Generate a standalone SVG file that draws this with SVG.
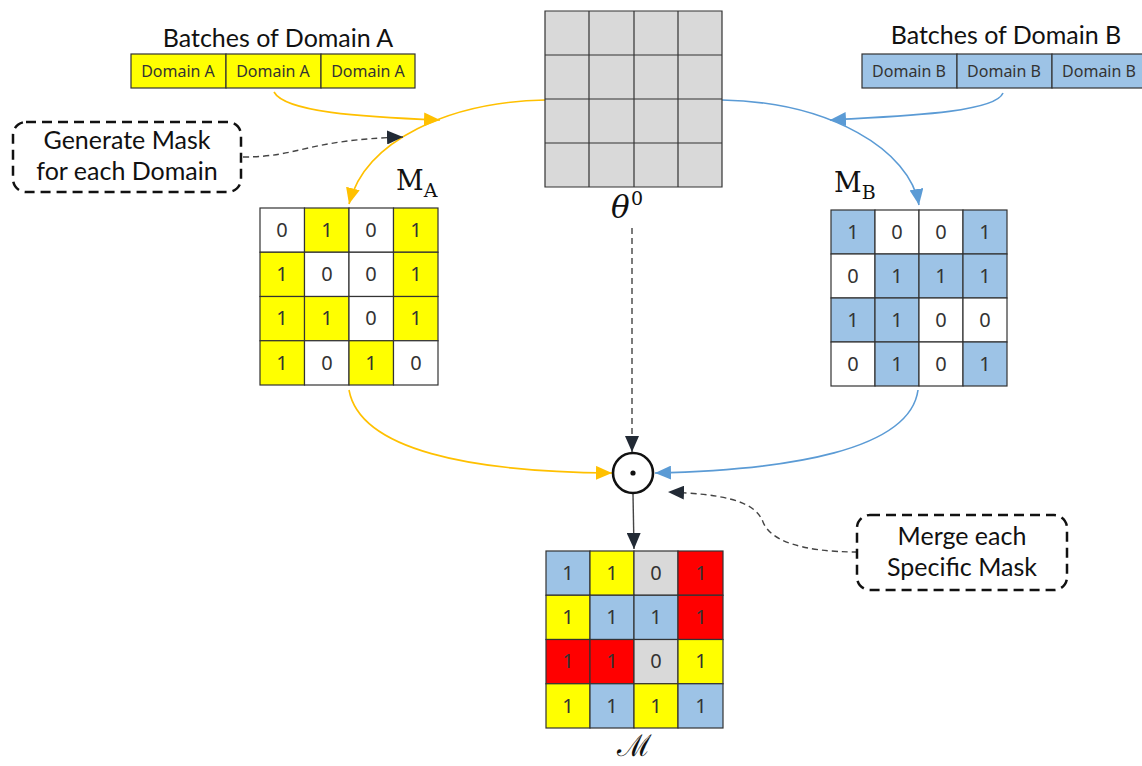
<svg xmlns="http://www.w3.org/2000/svg" width="1142" height="766" viewBox="0 0 1142 766">
  <style>
    .title { font-family: Lato, "Liberation Sans", sans-serif; font-size: 25px; fill: #111; text-anchor: middle; }
    .batch { font-family: "Noto Sans", "Liberation Sans", sans-serif; font-size: 16px; fill: #333; text-anchor: middle; }
    .cell { stroke: #333; stroke-width: 1.2; }
    .num { font-family: "Noto Sans", "Liberation Sans", sans-serif; font-size: 20px; fill: #333; text-anchor: middle; }
    .y { fill: #FFFF00; }
    .b { fill: #9DC3E6; }
    .w { fill: #FFFFFF; }
    .g { fill: #D9D9D9; }
    .r { fill: #FF0000; }
    .math { font-family: "DejaVu Serif", "Liberation Serif", serif; fill: #111; }
    .call { fill: #fff; stroke: #111; stroke-width: 2.5; stroke-dasharray: 10 6; }
    .calltxt { font-family: Lato, "Liberation Sans", sans-serif; font-size: 25px; fill: #111; text-anchor: middle; }
    .ya { fill: none; stroke: #FFC000; stroke-width: 1.6; }
    .ba { fill: none; stroke: #5B9BD5; stroke-width: 1.6; }
    .da { fill: none; stroke: #444; stroke-width: 1.4; stroke-dasharray: 6 4; }
    .sa { fill: none; stroke: #444; stroke-width: 1.4; }
  </style>
  <defs>
    <marker id="hy" viewBox="0 0 16 14" refX="16" refY="7" markerWidth="16" markerHeight="14" markerUnits="userSpaceOnUse" orient="auto">
      <path d="M0,0 L16,7 L0,14 Z" fill="#FFC000"/>
    </marker>
    <marker id="hb" viewBox="0 0 16 14" refX="16" refY="7" markerWidth="16" markerHeight="14" markerUnits="userSpaceOnUse" orient="auto">
      <path d="M0,0 L16,7 L0,14 Z" fill="#5B9BD5"/>
    </marker>
    <marker id="hd" viewBox="0 0 16 14" refX="16" refY="7" markerWidth="16" markerHeight="14" markerUnits="userSpaceOnUse" orient="auto">
      <path d="M0,0 L16,7 L0,14 Z" fill="#222A35"/>
    </marker>
  </defs>

  <!-- connectors -->
  <g id="connectors">
    <path class="ya" d="M274,92 C285,112 360,117 440,120" marker-end="url(#hy)"/>
    <path class="ya" d="M545,100 C450,102 365,140 349,204" marker-end="url(#hy)"/>
    <path class="ba" d="M1003,93 C995,113 900,116 830,120" marker-end="url(#hb)"/>
    <path class="ba" d="M722,100 C830,102 910,150 919,205" marker-end="url(#hb)"/>
    <path class="ya" d="M349,390 C360,450 470,472 612,473" marker-end="url(#hy)"/>
    <path class="ba" d="M918,390 C910,450 790,470 655,473" marker-end="url(#hb)"/>
    <path class="da" d="M632,228 L632,452" marker-end="url(#hd)"/>
    <path class="sa" d="M633,494 L634,549" marker-end="url(#hd)"/>
    <path class="da" d="M243,157 C300,157 305,140 403,137" marker-end="url(#hd)"/>
    <path class="da" d="M858,552 C800,552 770,540 763,522 C755,500 720,494 668,492" marker-end="url(#hd)"/>
  </g>

  <!-- batches of domain A -->
  <g id="batchA">
    <text class="title" x="278" y="47">Batches of Domain A</text>
    <rect class="cell y" x="131" y="54" width="95" height="34"/>
    <rect class="cell y" x="226" y="54" width="95" height="34"/>
    <rect class="cell y" x="321" y="54" width="94" height="34"/>
    <text class="batch" x="178" y="77">Domain A</text>
    <text class="batch" x="273" y="77">Domain A</text>
    <text class="batch" x="368" y="77">Domain A</text>
  </g>

  <!-- batches of domain B -->
  <g id="batchB">
    <text class="title" x="1006" y="44">Batches of Domain B</text>
    <rect class="cell b" x="862" y="54" width="95" height="34"/>
    <rect class="cell b" x="957" y="54" width="95" height="34"/>
    <rect class="cell b" x="1052" y="54" width="95" height="34"/>
    <text class="batch" x="909" y="77">Domain B</text>
    <text class="batch" x="1004" y="77">Domain B</text>
    <text class="batch" x="1099" y="77">Domain B</text>
  </g>

  <!-- initial parameters -->
  <g id="theta">
    <rect class="g" x="545" y="11" width="177" height="176"/>
    <path d="M545,11 H722 V187 H545 Z M589,11 V187 M634,11 V187 M678,11 V187 M545,55 H722 M545,99 H722 M545,143 H722" fill="none" stroke="#333" stroke-width="1.2"/>
    <text class="math" x="611" y="218" font-size="31" font-style="italic">θ</text>
    <text class="math" x="631" y="205" font-size="19">0</text>
  </g>

  <!-- mask of domain A -->
  <g id="maskA">
    <text class="math" x="396" y="190" font-size="27">M<tspan font-size="19" dy="7">A</tspan></text>
    <g transform="translate(260,208)">
      <rect class="cell w" x="0" y="0" width="44.5" height="44.25"/>
      <rect class="cell y" x="44.5" y="0" width="44.5" height="44.25"/>
      <rect class="cell w" x="89" y="0" width="44.5" height="44.25"/>
      <rect class="cell y" x="133.5" y="0" width="44.5" height="44.25"/>
      <rect class="cell y" x="0" y="44.25" width="44.5" height="44.25"/>
      <rect class="cell w" x="44.5" y="44.25" width="44.5" height="44.25"/>
      <rect class="cell w" x="89" y="44.25" width="44.5" height="44.25"/>
      <rect class="cell y" x="133.5" y="44.25" width="44.5" height="44.25"/>
      <rect class="cell y" x="0" y="88.5" width="44.5" height="44.25"/>
      <rect class="cell y" x="44.5" y="88.5" width="44.5" height="44.25"/>
      <rect class="cell w" x="89" y="88.5" width="44.5" height="44.25"/>
      <rect class="cell y" x="133.5" y="88.5" width="44.5" height="44.25"/>
      <rect class="cell y" x="0" y="132.75" width="44.5" height="44.25"/>
      <rect class="cell w" x="44.5" y="132.75" width="44.5" height="44.25"/>
      <rect class="cell y" x="89" y="132.75" width="44.5" height="44.25"/>
      <rect class="cell w" x="133.5" y="132.75" width="44.5" height="44.25"/>
      <text class="num" x="22" y="29">0</text><text class="num" x="67" y="29">1</text><text class="num" x="111" y="29">0</text><text class="num" x="156" y="29">1</text>
      <text class="num" x="22" y="73">1</text><text class="num" x="67" y="73">0</text><text class="num" x="111" y="73">0</text><text class="num" x="156" y="73">1</text>
      <text class="num" x="22" y="117">1</text><text class="num" x="67" y="117">1</text><text class="num" x="111" y="117">0</text><text class="num" x="156" y="117">1</text>
      <text class="num" x="22" y="162">1</text><text class="num" x="67" y="162">0</text><text class="num" x="111" y="162">1</text><text class="num" x="156" y="162">0</text>
    </g>
  </g>

  <!-- mask of domain B -->
  <g id="maskB">
    <text class="math" x="834" y="192" font-size="27">M<tspan font-size="19" dy="7">B</tspan></text>
    <g transform="translate(831,210)">
      <rect class="cell b" x="0" y="0" width="44" height="44"/>
      <rect class="cell w" x="44" y="0" width="44" height="44"/>
      <rect class="cell w" x="88" y="0" width="44" height="44"/>
      <rect class="cell b" x="132" y="0" width="44" height="44"/>
      <rect class="cell w" x="0" y="44" width="44" height="44"/>
      <rect class="cell b" x="44" y="44" width="44" height="44"/>
      <rect class="cell b" x="88" y="44" width="44" height="44"/>
      <rect class="cell b" x="132" y="44" width="44" height="44"/>
      <rect class="cell b" x="0" y="88" width="44" height="44"/>
      <rect class="cell b" x="44" y="88" width="44" height="44"/>
      <rect class="cell w" x="88" y="88" width="44" height="44"/>
      <rect class="cell w" x="132" y="88" width="44" height="44"/>
      <rect class="cell w" x="0" y="132" width="44" height="44"/>
      <rect class="cell b" x="44" y="132" width="44" height="44"/>
      <rect class="cell w" x="88" y="132" width="44" height="44"/>
      <rect class="cell b" x="132" y="132" width="44" height="44"/>
      <text class="num" x="22" y="29">1</text><text class="num" x="66" y="29">0</text><text class="num" x="110" y="29">0</text><text class="num" x="154" y="29">1</text>
      <text class="num" x="22" y="73">0</text><text class="num" x="66" y="73">1</text><text class="num" x="110" y="73">1</text><text class="num" x="154" y="73">1</text>
      <text class="num" x="22" y="117">1</text><text class="num" x="66" y="117">1</text><text class="num" x="110" y="117">0</text><text class="num" x="154" y="117">0</text>
      <text class="num" x="22" y="161">0</text><text class="num" x="66" y="161">1</text><text class="num" x="110" y="161">0</text><text class="num" x="154" y="161">1</text>
    </g>
  </g>

  <!-- element-wise product operator -->
  <g id="odot">
    <circle cx="633" cy="473" r="20" fill="#fff" stroke="#111" stroke-width="2.6"/>
    <circle cx="633" cy="473" r="2.6" fill="#111"/>
  </g>

  <!-- merged mask -->
  <g id="merged">
    <g transform="translate(546,551)">
      <rect class="cell b" x="0" y="0" width="44" height="44.25"/>
      <rect class="cell y" x="44" y="0" width="44" height="44.25"/>
      <rect class="cell g" x="88" y="0" width="44" height="44.25"/>
      <rect class="cell r" x="132" y="0" width="45" height="44.25"/>
      <rect class="cell y" x="0" y="44.25" width="44" height="44.25"/>
      <rect class="cell b" x="44" y="44.25" width="44" height="44.25"/>
      <rect class="cell b" x="88" y="44.25" width="44" height="44.25"/>
      <rect class="cell r" x="132" y="44.25" width="45" height="44.25"/>
      <rect class="cell r" x="0" y="88.5" width="44" height="44.25"/>
      <rect class="cell r" x="44" y="88.5" width="44" height="44.25"/>
      <rect class="cell g" x="88" y="88.5" width="44" height="44.25"/>
      <rect class="cell y" x="132" y="88.5" width="45" height="44.25"/>
      <rect class="cell y" x="0" y="132.75" width="44" height="44.25"/>
      <rect class="cell b" x="44" y="132.75" width="44" height="44.25"/>
      <rect class="cell y" x="88" y="132.75" width="44" height="44.25"/>
      <rect class="cell b" x="132" y="132.75" width="45" height="44.25"/>
      <text class="num" x="22" y="29">1</text><text class="num" x="66" y="29">1</text><text class="num" x="110" y="29">0</text><text class="num" x="155" y="29">1</text>
      <text class="num" x="22" y="73">1</text><text class="num" x="66" y="73">1</text><text class="num" x="110" y="73">1</text><text class="num" x="155" y="73">1</text>
      <text class="num" x="22" y="117">1</text><text class="num" x="66" y="117">1</text><text class="num" x="110" y="117">0</text><text class="num" x="155" y="117">1</text>
      <text class="num" x="22" y="162">1</text><text class="num" x="66" y="162">1</text><text class="num" x="110" y="162">1</text><text class="num" x="155" y="162">1</text>
    </g>
    <text class="math" x="634" y="756" font-size="30" text-anchor="middle">ℳ</text>
  </g>

  <!-- callouts -->
  <g id="callGenerate">
    <rect class="call" x="13" y="122" width="228" height="70" rx="13"/>
    <text class="calltxt" x="127" y="149">Generate Mask</text>
    <text class="calltxt" x="127" y="180">for each Domain</text>
  </g>
  <g id="callMerge">
    <rect class="call" x="857" y="515" width="210" height="75" rx="13"/>
    <text class="calltxt" x="962" y="545">Merge each</text>
    <text class="calltxt" x="962" y="576">Specific Mask</text>
  </g>
</svg>
